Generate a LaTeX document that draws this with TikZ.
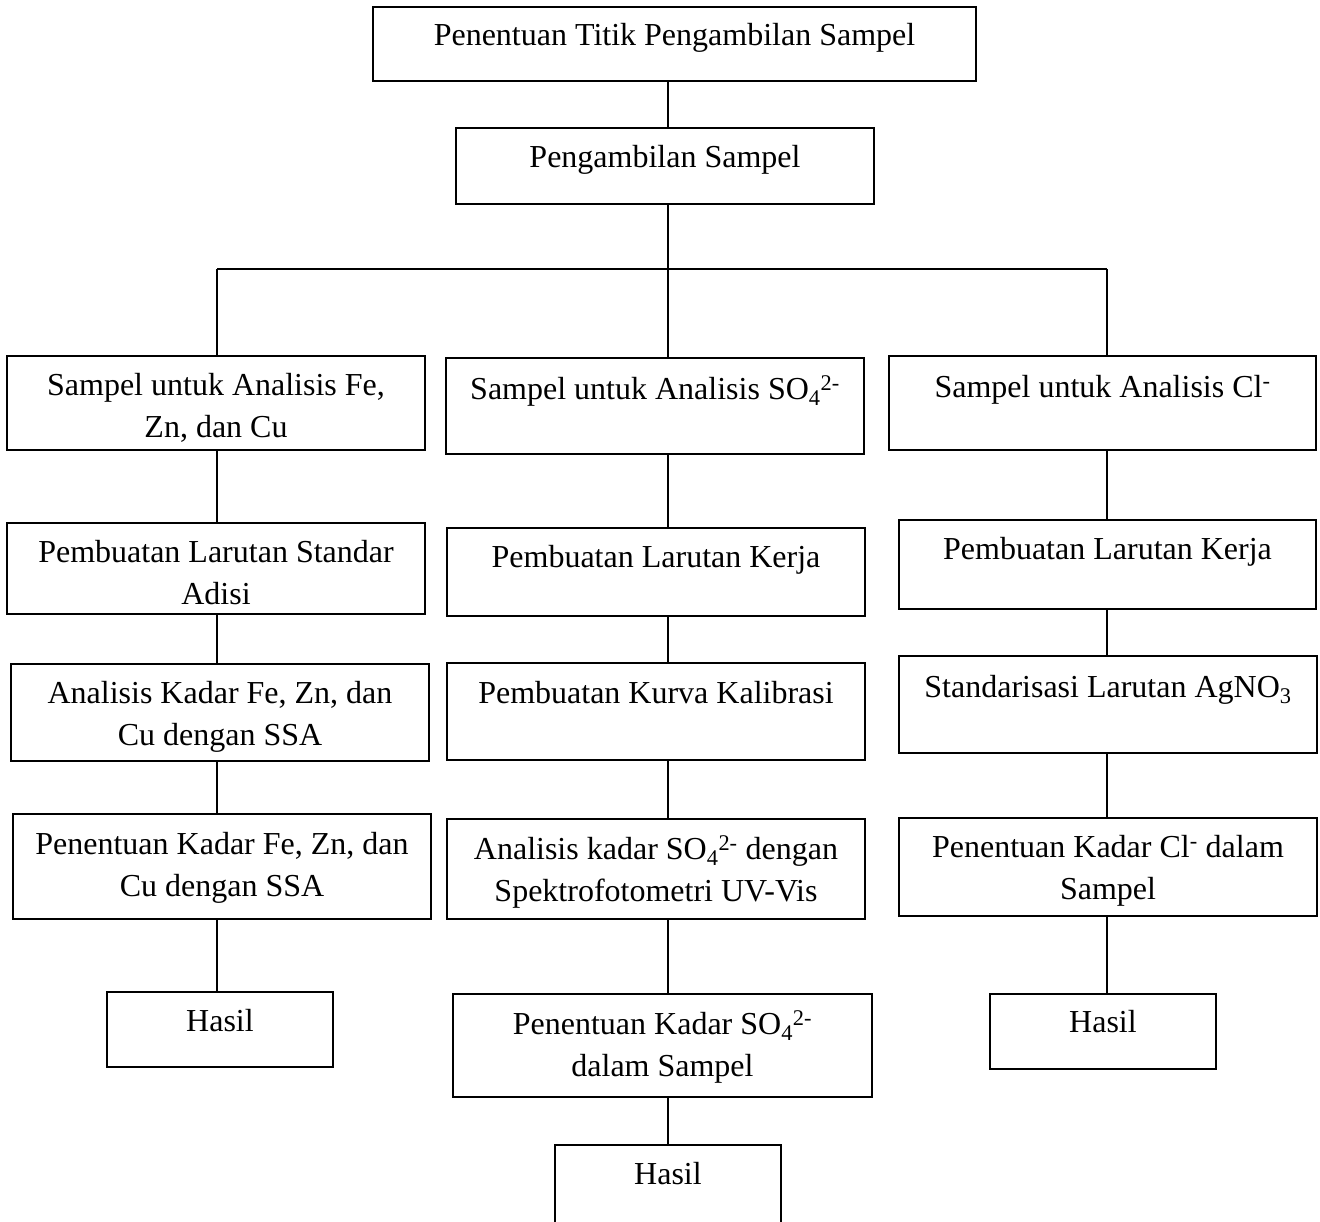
\documentclass[tikz,border=0pt]{standalone}
\usepackage{fontspec}
\setmainfont{Liberation Serif}
\newcommand\mkbox[6]{%
  \node[box, minimum width={#4-#2}, minimum height={#5-#3}] (#1) at ({(#2+#4)/2},{(#3+#5)/2}) {};
  \node[txt] (#1t) at ({(#2+#4)/2},{#6-29.4}) {\strut #1text};}
\begin{document}
\begin{tikzpicture}[x=1pt,y=-1pt,
  box/.style={draw, line width=1.3pt, inner sep=0pt, outer sep=0pt},
  txt/.style={font=\fontsize{32}{42}\selectfont, align=center, inner sep=0pt, anchor=north},
  conn/.style={line width=1.3pt}]
\clip (0,0) rectangle (1320,1222);
\fill[white] (0,0) rectangle (1320,1222);
% boxes
\newcommand\bx[7]{%
  \node[box, minimum width={#4-#2}, minimum height={#5-#3}] (#1) at ({(#2+#4)/2},{(#3+#5)/2}) {};
  \node[txt] (#1t) at ({(#2+#4)/2},{#6-29.4}) {\strut #7};}
\bx{B1}{373}{7}{976}{81}{45}{Penentuan Titik Pengambilan Sampel}
\bx{B2}{456}{128}{874}{204}{167}{Pengambilan Sampel}
\bx{L1}{7}{356}{425}{450}{395}{Sampel untuk Analisis Fe,\\ Zn, dan Cu}
\bx{L2}{7}{523}{425}{614}{562}{Pembuatan Larutan Standar\\ Adisi}
\bx{L3}{11}{664}{429}{761}{703}{Analisis Kadar Fe, Zn, dan\\ Cu dengan SSA}
\bx{L4}{13}{814}{431}{919}{854}{Penentuan Kadar Fe, Zn, dan\\ Cu dengan SSA}
\bx{LH}{107}{992}{333}{1067}{1031}{Hasil}
\bx{M1}{446}{358}{864}{454}{399}{Sampel untuk Analisis SO\textsubscript{4}\textsuperscript{2-}}
\bx{M2}{447}{528}{865}{616}{567}{Pembuatan Larutan Kerja}
\bx{M3}{447}{663}{865}{760}{703}{Pembuatan Kurva Kalibrasi}
\bx{M4}{447}{819}{865}{919}{859}{Analisis kadar SO\textsubscript{4}\textsuperscript{2-} dengan\\ Spektrofotometri UV-Vis}
\bx{M5}{453}{994}{872}{1097}{1034}{Penentuan Kadar SO\textsubscript{4}\textsuperscript{2-}\\ dalam Sampel}
\bx{MH}{555}{1145}{781}{1262}{1184}{Hasil}
\bx{R1}{889}{356}{1316}{450}{397}{Sampel untuk Analisis Cl\textsuperscript{-}}
\bx{R2}{899}{520}{1316}{609}{559}{Pembuatan Larutan Kerja}
\bx{R3}{899}{656}{1317}{753}{697}{Standarisasi Larutan AgNO\textsubscript{3}}
\bx{R4}{899}{818}{1317}{916}{857}{Penentuan Kadar Cl\textsuperscript{-} dalam\\ Sampel}
\bx{RH}{990}{994}{1216}{1069}{1032}{Hasil}
% junctions
\coordinate (jL) at (217,269);
\coordinate (jM) at (668,269);
\coordinate (jR) at (1107,269);
% connectors
\draw[conn] (B1.south -| jM) -- (B2.north -| jM);
\draw[conn] (B2.south -| jM) -- (jM);
\draw[conn] (jL) -- (jR);
\draw[conn] (jL) -- (L1.north -| jL);
\draw[conn] (jM) -- (M1.north -| jM);
\draw[conn] (jR) -- (R1.north -| jR);
\draw[conn] (L1.south -| jL) -- (L2.north -| jL);
\draw[conn] (L2.south -| jL) -- (L3.north -| jL);
\draw[conn] (L3.south -| jL) -- (L4.north -| jL);
\draw[conn] (L4.south -| jL) -- (LH.north -| jL);
\draw[conn] (M1.south -| jM) -- (M2.north -| jM);
\draw[conn] (M2.south -| jM) -- (M3.north -| jM);
\draw[conn] (M3.south -| jM) -- (M4.north -| jM);
\draw[conn] (M4.south -| jM) -- (M5.north -| jM);
\draw[conn] (M5.south -| jM) -- (MH.north -| jM);
\draw[conn] (R1.south -| jR) -- (R2.north -| jR);
\draw[conn] (R2.south -| jR) -- (R3.north -| jR);
\draw[conn] (R3.south -| jR) -- (R4.north -| jR);
\draw[conn] (R4.south -| jR) -- (RH.north -| jR);
\end{tikzpicture}
\end{document}
